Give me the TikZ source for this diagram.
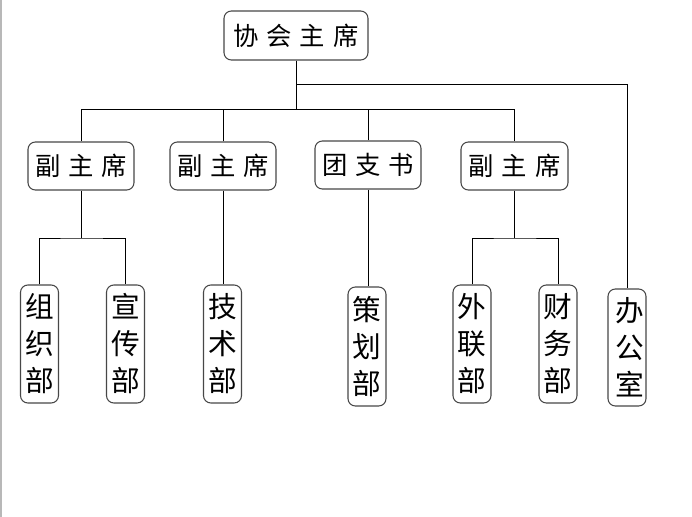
\documentclass[tikz,border=0pt]{standalone}
\usepackage{fontspec}
\newfontfamily\cjk{Noto Sans CJK SC}
\tikzset{
  box/.style={draw=black!72, line width=0.8pt, rounded corners=5.5pt, fill=white, inner sep=0pt, align=center},
  headbox/.style={box, font={\cjk\fontsize{19}{22}\selectfont}},
  deptbox/.style={box, minimum width=38*0.75pt, minimum height=118*0.75pt, font={\cjk\fontsize{21.5}{27.75}\selectfont}},
  conn/.style={draw=black, line width=0.75pt}
}
\newcommand{\gp}{\hspace{6pt}}
\begin{document}
\begin{tikzpicture}[x=0.75pt,y=-0.75pt]
\useasboundingbox (0,0) rectangle (692,517);
\fill[black!28] (0,0) rectangle (1.6,517);
% coordinates for horizontal bus lines
\coordinate (yA) at (0,85);
\coordinate (yB) at (0,109);
\coordinate (yC) at (0,238);
% top
\node[headbox, minimum width=144*0.75pt, minimum height=49*0.75pt] (top) at (296,35.5) {协\gp 会\gp 主\gp 席};
% middle level
\node[headbox, minimum width=106*0.75pt, minimum height=48*0.75pt] (b1) at (81,166) {副\gp 主\gp 席};
\node[headbox, minimum width=106*0.75pt, minimum height=48*0.75pt] (b2) at (223,166) {副\gp 主\gp 席};
\node[headbox, minimum width=106*0.75pt, minimum height=48*0.75pt] (b3) at (368,165) {团\gp 支\gp 书};
\node[headbox, minimum width=107*0.75pt, minimum height=48*0.75pt] (b4) at (514.5,166) {副\gp 主\gp 席};
% departments
\node[deptbox] (c1) at (39.5,344) {组\\织\\部};
\node[deptbox] (c2) at (125.5,344) {宣\\传\\部};
\node[deptbox] (c3) at (222.5,344) {技\\术\\部};
\node[deptbox, minimum height=119*0.75pt] (c4) at (367,346.5) {策\\划\\部};
\node[deptbox] (c5) at (472,344) {外\\联\\部};
\node[deptbox] (c6) at (558,344) {财\\务\\部};
\node[deptbox, minimum height=117*0.75pt] (c7) at (627,347.5) {\hspace{4pt}办\\\hspace{4pt}公\\\hspace{4pt}室};
% connectors
\draw[conn] (top.south) -- (top.south |- yA) -| (c7.north);
\draw[conn] (top.south) -- (top.south |- yB);
\draw[conn] (b1.north) -- (b1.north |- yB) -- (b4.north |- yB) -- (b4.north);
\draw[conn] (b2.north) -- (b2.north |- yB);
\draw[conn] (b3.north) -- (b3.north |- yB);
\draw[conn] (b1.south) -- (b1.south |- yC);
\draw[conn] (c1.north) |- (b1.south |- yC) -| (c2.north);
\draw[conn] (b2.south) -- (b2.south |- c3.north);
\draw[conn] (b3.south) -- (b3.south |- c4.north);
\draw[conn] (b4.south) -- (b4.south |- yC);
\draw[conn] (c5.north) |- (b4.south |- yC) -| (c6.north);
\end{tikzpicture}
\end{document}
